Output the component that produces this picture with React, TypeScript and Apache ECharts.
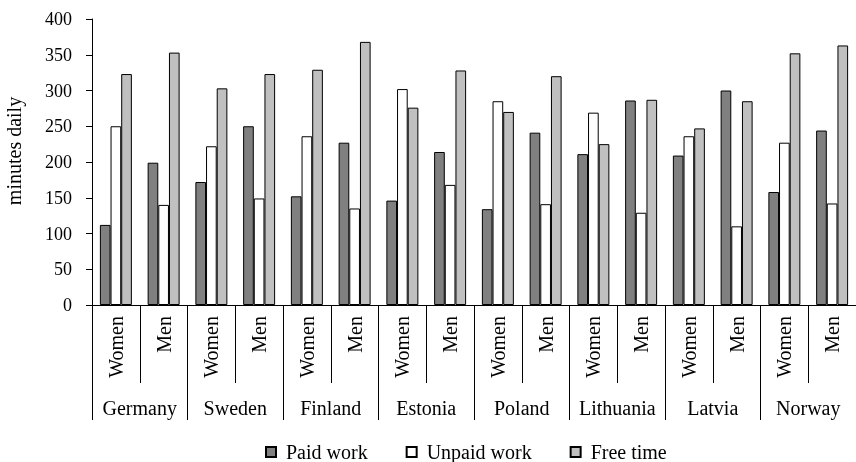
import React, { useEffect, useRef } from "react";
import * as echarts from "echarts";

const countries = ["Germany", "Sweden", "Finland", "Estonia", "Poland", "Lithuania", "Latvia", "Norway"];
const sexes = ["Women", "Men"];
const categories = countries.flatMap(() => sexes);
const paidWork = [112, 199, 172, 250, 152, 227, 146, 214, 134, 241, 211, 286, 209, 300, 158, 244];
const unpaidWork = [250, 140, 222, 149, 236, 135, 302, 168, 285, 141, 269, 129, 236, 110, 227, 142];
const freeTime = [323, 353, 303, 323, 329, 368, 276, 328, 270, 320, 225, 287, 247, 285, 352, 363];
const seriesNames = ["Paid work", "Unpaid work", "Free time"];
const yTicks = { min: 0, max: 400, interval: 50 };

const FONT = "'Liberation Serif', 'Times New Roman', serif";

export default function App() {
  const ref = useRef<HTMLDivElement>(null);
  useEffect(() => {
    if (!ref.current) return;
    const chart = echarts.init(ref.current, null, { renderer: "svg" });
    const barStyle = (color: string) => ({
      color,
      borderColor: "#000",
      borderWidth: 1,
    });
    chart.setOption({
      animation: false,
      textStyle: { fontFamily: FONT, color: "#000" },
      grid: { left: 92, top: 19, width: 770, height: 286, containLabel: false },
      legend: {
        left: 265,
        top: 442,
        padding: 0,
        itemWidth: 10,
        itemHeight: 10,
        itemGap: 38,
        icon: "rect",
        textStyle: { fontFamily: FONT, fontSize: 20, color: "#000", padding: [0, 0, 0, 5] },
        data: seriesNames,
      },
      graphic: [
        {
          type: "text",
          x: 14,
          y: 151,
          rotation: Math.PI / 2,
          style: {
            text: "minutes daily",
            font: `20px ${FONT}`,
            fill: "#000",
            textAlign: "center",
            textVerticalAlign: "middle",
          },
        },
      ],
      xAxis: [
        {
          type: "category",
          data: categories,
          position: "bottom",
          axisLine: { show: true, lineStyle: { color: "#000", width: 1 } },
          axisTick: { show: true, interval: 0, length: 78, lineStyle: { color: "#000" } },
          axisLabel: { interval: 0, rotate: 90, margin: 11, fontSize: 20, fontFamily: FONT, color: "#000" },
          splitLine: { show: false },
        },
        {
          type: "category",
          data: countries,
          position: "bottom",
          offset: 0,
          axisLine: { show: false },
          axisTick: { show: true, interval: 0, length: 115, lineStyle: { color: "#000" } },
          axisLabel: { interval: 0, margin: 93, fontSize: 20, fontFamily: FONT, color: "#000" },
          splitLine: { show: false },
        },
      ],
      yAxis: {
        type: "value",
        min: yTicks.min,
        max: yTicks.max,
        interval: yTicks.interval,
        axisLine: { show: true, lineStyle: { color: "#000" } },
        axisTick: { show: true, length: 6, lineStyle: { color: "#000" } },
        axisLabel: { margin: 20, fontSize: 18, fontFamily: FONT, color: "#000" },
        splitLine: { show: false },
      },
      series: [
        { name: seriesNames[0], type: "bar", data: paidWork, itemStyle: barStyle("#808080"), barGap: "0%", barCategoryGap: "33%" },
        { name: seriesNames[1], type: "bar", data: unpaidWork, itemStyle: barStyle("#ffffff"), barGap: "0%", barCategoryGap: "33%" },
        { name: seriesNames[2], type: "bar", data: freeTime, itemStyle: barStyle("#c0c0c0"), barGap: "0%", barCategoryGap: "33%" },
      ],
    });
    return () => chart.dispose();
  }, []);
  return <div ref={ref} style={{ position: "fixed", left: 0, top: 0, width: 856, height: 462 }} />;
}
